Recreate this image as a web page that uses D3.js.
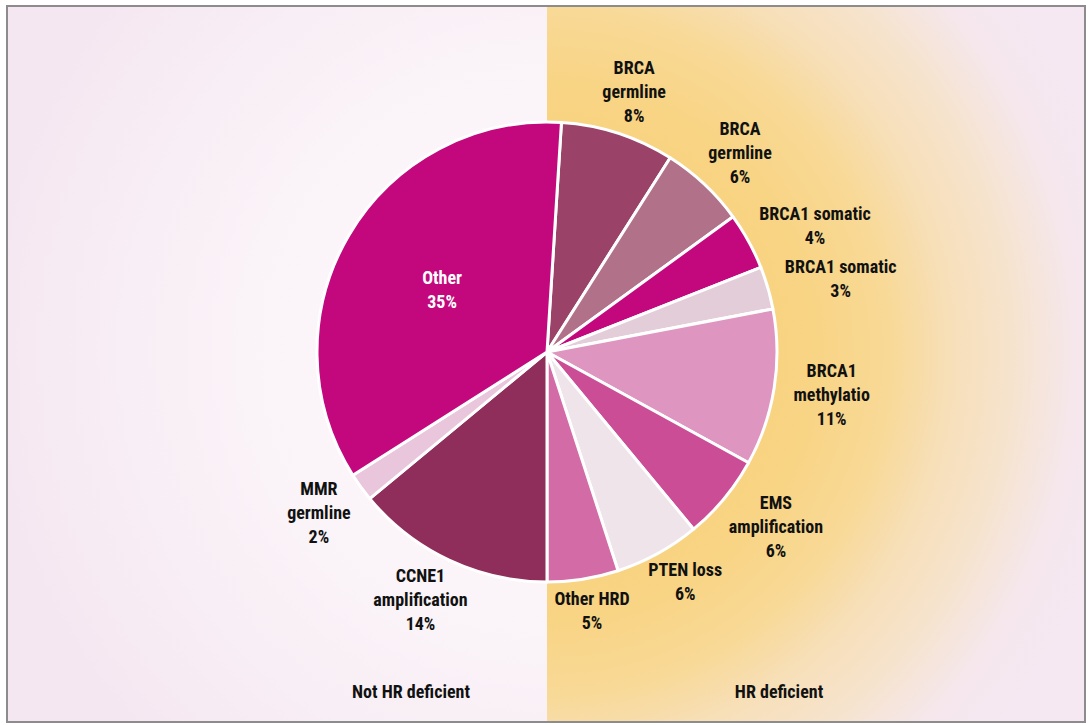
<!DOCTYPE html>
<html><head><meta charset="utf-8">
<script src="https://cdn.jsdelivr.net/npm/d3@7"></script>
<style>
html,body{margin:0;padding:0;background:#fff;}
svg{display:block;}
text{font-family:"Liberation Sans Narrow","Roboto Condensed","Arial Narrow",sans-serif;}
</style></head>
<body>
<svg id="chart" width="1090" height="725"></svg>
<script>
// ---- data ----
const categories = [
  "BRCA\ngermline", "BRCA\ngermline", "BRCA1 somatic", "BRCA1 somatic",
  "BRCA1\nmethylatio", "EMS\namplification", "PTEN loss", "Other HRD",
  "CCNE1\namplification", "MMR\ngermline", "Other"
];
const values = [8, 6, 4, 3, 11, 6, 6, 5, 14, 2, 35];
const groups = ["HR", "HR", "HR", "HR", "HR", "HR", "HR", "HR", "Not", "Not", "Not"];
const colors = ["#9b4269", "#b17189", "#c3087e", "#e3cdd9", "#de96c1", "#cb4d96",
                "#efe4ea", "#d36ba6", "#8f2e5a", "#eac6dc", "#c3077d"];
const groupLabels = ["Not HR deficient", "HR deficient"];

// ---- layout ----
const W = 1090, H = 725;
const cx = 547, cy = 352, R = 230;
const box = {x0: 7, y0: 6, x1: 1085, y1: 722};
const svg = d3.select("#chart");
const defs = svg.append("defs");

const gl = defs.append("radialGradient").attr("id", "gLeft")
  .attr("gradientUnits", "userSpaceOnUse").attr("cx", cx).attr("cy", cy).attr("r", 560);
[[0, "#fdf9fc"], [0.45, "#fbf5f9"], [0.75, "#f8eef5"], [1, "#f5e7f1"]]
  .forEach(([o, c]) => gl.append("stop").attr("offset", o).attr("stop-color", c));

const gr = defs.append("radialGradient").attr("id", "gRight")
  .attr("gradientUnits", "userSpaceOnUse").attr("cx", cx).attr("cy", cy).attr("r", 600);
[[0, "#f8cf6e"], [0.45, "#f8d485"], [0.57, "#f8d996"], [0.67, "#f7dfb8"],
 [0.77, "#f6e3cc"], [0.88, "#f5e7ec"], [1, "#f5e8f3"]]
  .forEach(([o, c]) => gr.append("stop").attr("offset", o).attr("stop-color", c));

svg.append("rect").attr("x", box.x0).attr("y", box.y0)
  .attr("width", cx - box.x0).attr("height", box.y1 - box.y0).attr("fill", "url(#gLeft)");
svg.append("rect").attr("x", cx).attr("y", box.y0)
  .attr("width", box.x1 - cx).attr("height", box.y1 - box.y0).attr("fill", "url(#gRight)");
svg.append("rect").attr("x", box.x0).attr("y", box.y0)
  .attr("width", box.x1 - box.x0).attr("height", box.y1 - box.y0)
  .attr("fill", "none").attr("stroke", "#8c8c8c").attr("stroke-width", 2);

// ---- pie ----
const total = d3.sum(values);
const hrSum = d3.sum(values.filter((v, i) => groups[i] === "HR"));
const start = Math.PI - hrSum / total * 2 * Math.PI;
const pie = d3.pie().sort(null).value(d => d.v).startAngle(start).endAngle(start + 2 * Math.PI);
const data = values.map((v, i) => ({v, label: categories[i], color: colors[i], pct: v + "%"}));
const arcs = pie(data);
const arc = d3.arc().innerRadius(0).outerRadius(R);

const g = svg.append("g").attr("transform", `translate(${cx},${cy})`);
g.selectAll("path").data(arcs).join("path")
  .attr("d", arc).attr("fill", d => d.data.color)
  .attr("stroke", "#fff").attr("stroke-width", 3).attr("stroke-linejoin", "round");

// ---- labels ----
const fs = 18, lh = 24, gap = 20;
arcs.forEach((d, i) => {
  const lines = d.data.label.split("\n").concat([d.data.pct]);
  const inside = i === arcs.length - 1;
  const t = g.append("text").attr("text-anchor", "middle")
    .attr("font-size", fs).attr("font-weight", "bold")
    .attr("fill", inside ? "#fff" : "#111");
  lines.forEach((ln, k) => t.append("tspan").attr("x", 0)
    .attr("y", (k - (lines.length - 1) / 2) * lh).attr("dy", "0.35em").text(ln));
  const a = (d.startAngle + d.endAngle) / 2;
  let px, py;
  if (inside) {
    const c = d3.arc().innerRadius(0).outerRadius(R * 1.06).centroid(d);
    px = c[0]; py = c[1];
  } else {
    const bb = t.node().getBBox();
    const w = bb.width, h = (lines.length - 1) * lh;
    const ra = R + gap;
    px = (ra + w / 2) * Math.sin(a);
    py = -(ra + h / 2) * Math.cos(a);
  }
  t.attr("transform", `translate(${px},${py})`);
});

// ---- group labels ----
svg.append("g").selectAll("text").data(groupLabels).join("text")
  .attr("x", (d, i) => i === 0 ? cx - 136 : cx + 232).attr("y", 692)
  .attr("dy", "0.35em").attr("text-anchor", "middle")
  .attr("font-size", fs).attr("font-weight", "bold").attr("fill", "#111")
  .text(d => d);
</script>
</body></html>
